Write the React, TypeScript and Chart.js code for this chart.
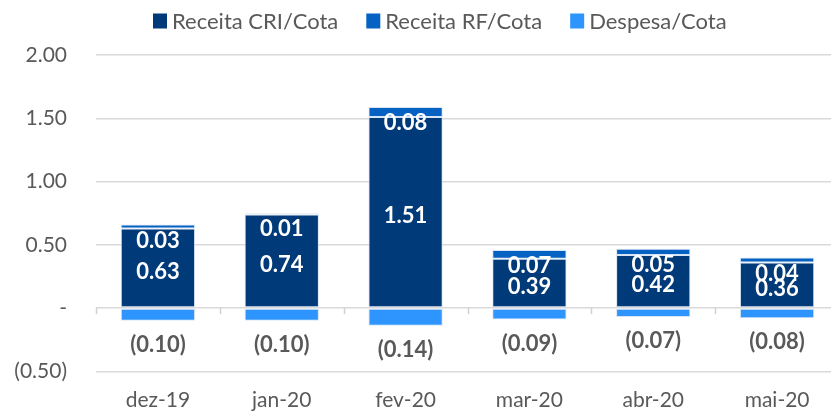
import React, { useEffect, useRef } from "react";
import { Chart, registerables } from "chart.js";

Chart.register(...registerables);

const categories = ["dez-19", "jan-20", "fev-20", "mar-20", "abr-20", "mai-20"];
const receitaCRI = [0.63, 0.74, 1.51, 0.39, 0.42, 0.36];
const receitaRF = [0.03, 0.01, 0.08, 0.07, 0.05, 0.04];
const despesa = [-0.1, -0.1, -0.14, -0.09, -0.07, -0.08];
const seriesNames = ["Receita CRI/Cota", "Receita RF/Cota", "Despesa/Cota"];
const seriesColors = ["#003A78", "#0662C2", "#2E95FE"];
const yMin = -0.5;
const yMax = 2.0;
const yStep = 0.5;

const FONT = "Lato, 'Open Sans', sans-serif";

function fmt(v: number): string {
  if (Math.abs(v) < 1e-9) return "-";
  if (v < 0) return "(" + Math.abs(v).toFixed(2) + ")";
  return v.toFixed(2);
}

const customPlugin = {
  id: "customDraw",
  afterDatasetsDraw(chart: any) {
    const ctx = chart.ctx;
    ctx.save();
    ctx.textAlign = "center";
    ctx.textBaseline = "middle";
    chart.data.datasets.forEach((ds: any, i: number) => {
      const meta = chart.getDatasetMeta(i);
      meta.data.forEach((el: any, j: number) => {
        const v = ds.data[j];
        let y: number;
        if (i === 0) {
          y = (el.y + el.base) / 2 + 4;
          ctx.fillStyle = "#FFFFFF";
        } else if (i === 1) {
          y = el.y + 16;
          ctx.fillStyle = "#FFFFFF";
        } else {
          y = el.y + 24;
          ctx.fillStyle = "#595959";
        }
        ctx.font = "bold 22px " + FONT;
        ctx.fillText(fmt(v), el.x, y);
      });
    });
    ctx.restore();
  },
  afterDraw(chart: any) {
    const ctx = chart.ctx;
    const xs = chart.scales.x;
    const ys = chart.scales.y;
    const y0 = ys.getPixelForValue(0);
    ctx.save();
    // tick marks on zero axis at category boundaries
    ctx.strokeStyle = "#D0D0D0";
    ctx.lineWidth = 1.5;
    const n = categories.length;
    const w = (xs.right - xs.left) / n;
    for (let i = 0; i <= n; i++) {
      const x = Math.round(xs.left + i * w) + 0.5;
      ctx.beginPath();
      ctx.moveTo(x, y0);
      ctx.lineTo(x, y0 + 6);
      ctx.stroke();
    }
    // legend
    ctx.font = "22px " + FONT;
    ctx.textBaseline = "middle";
    ctx.textAlign = "left";
    let x = 153;
    const cy = 21;
    seriesNames.forEach((name, i) => {
      ctx.fillStyle = seriesColors[i];
      ctx.fillRect(x, cy - 7.5, 14, 15);
      ctx.fillStyle = "#595959";
      ctx.fillText(name, x + 19, cy + 1);
      x += 19 + ctx.measureText(name).width + 28;
    });
    ctx.restore();
  },
};

export default function App() {
  const ref = useRef<HTMLCanvasElement | null>(null);
  useEffect(() => {
    if (!ref.current) return;
    const chart = new Chart(ref.current, {
      type: "bar",
      data: {
        labels: categories,
        datasets: [
          { label: seriesNames[0], data: receitaCRI, backgroundColor: seriesColors[0], borderColor: "#D6E4F5", borderWidth: 1, borderSkipped: false },
          { label: seriesNames[1], data: receitaRF, backgroundColor: seriesColors[1], borderColor: "#D6E4F5", borderWidth: 1, borderSkipped: false },
          { label: seriesNames[2], data: despesa, backgroundColor: seriesColors[2], borderColor: "#D6E4F5", borderWidth: 1, borderSkipped: false },
        ],
      },
      options: {
        animation: false,
        responsive: false,
        maintainAspectRatio: false,
        layout: { padding: { top: 55, right: 6, left: 0, bottom: 0 } },
        datasets: { bar: { barPercentage: 1, categoryPercentage: 0.6 } },
        plugins: {
          legend: { display: false },
          tooltip: { enabled: false },
        },
        scales: {
          x: {
            stacked: true,
            grid: { display: false, drawTicks: false },
            border: { display: false },
            ticks: { color: "#595959", font: { family: FONT, size: 21 }, padding: 16, maxRotation: 0 },
            afterFit: (s: any) => {
              s.height = 41;
            },
          },
          y: {
            stacked: true,
            min: yMin,
            max: yMax,
            grid: { color: "#D9D9D9", lineWidth: 1.5, drawTicks: false },
            border: { display: false },
            ticks: {
              stepSize: yStep,
              color: "#595959",
              font: { family: FONT, size: 21 },
              padding: 29,
              callback: (v: any) => fmt(Number(v)),
            },
            afterFit: (s: any) => {
              s.width = 96;
            },
          },
        },
      },
      plugins: [customPlugin],
    });
    return () => chart.destroy();
  }, []);
  return (
    <div style={{ position: "fixed", left: 0, top: 0, width: 845, height: 413, background: "#fff" }}>
      <canvas ref={ref} width={845} height={413} style={{ display: "block", width: 845, height: 413 }} />
    </div>
  );
}
